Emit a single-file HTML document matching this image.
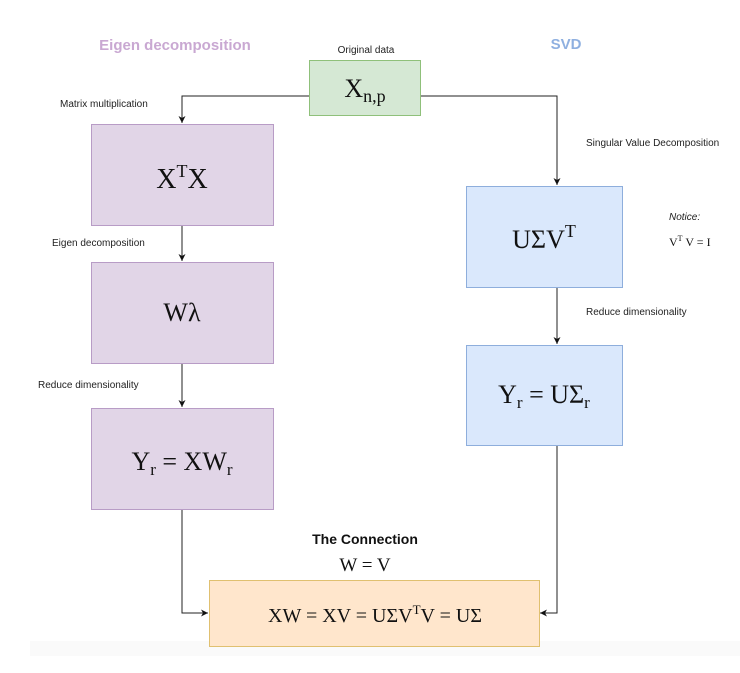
<!DOCTYPE html>
<html><head><meta charset="utf-8"><style>
html,body{margin:0;padding:0;background:#fff;}
svg{display:block;}
.s{font-family:"Liberation Sans",sans-serif;font-size:10px;fill:#222;}
.m{font-family:"Liberation Serif",serif;fill:#111;}
</style></head><body>
<svg width="740" height="673" viewBox="0 0 740 673" xmlns="http://www.w3.org/2000/svg">
<defs><marker id="a" markerWidth="8" markerHeight="8" refX="7" refY="4" orient="auto" markerUnits="userSpaceOnUse"><path d="M0,0.5 L7,4 L0,7.5 L2,4 Z" fill="#111"/></marker></defs>
<rect x="30" y="641" width="710" height="15" fill="#fafafa"/>
<text x="175" y="50" text-anchor="middle" font-family="Liberation Sans,sans-serif" font-weight="bold" font-size="15" fill="#c9a8d2">Eigen decomposition</text>
<text x="566" y="49" text-anchor="middle" font-family="Liberation Sans,sans-serif" font-weight="bold" font-size="15" fill="#8fb0e0">SVD</text>
<text class="s" x="366" y="53" text-anchor="middle">Original data</text>
<g stroke="#222" stroke-width="1" fill="none">
<path d="M310,96 H182 V123" marker-end="url(#a)"/>
<path d="M420,96 H557 V185" marker-end="url(#a)"/>
<path d="M182,225 V261" marker-end="url(#a)"/>
<path d="M182,363 V407" marker-end="url(#a)"/>
<path d="M557,287 V344" marker-end="url(#a)"/>
<path d="M182,509 V613 H208" marker-end="url(#a)"/>
<path d="M557,445 V613 H540" marker-end="url(#a)"/>
</g>
<rect x="309.5" y="60.5" width="111" height="55" fill="#d5e8d4" stroke="#8fc07a"/>
<text class="m" x="365" y="97" text-anchor="middle" font-size="26">X<tspan font-size="18" dy="5">n,p</tspan></text>
<text class="s" x="60" y="107">Matrix multiplication</text>
<rect x="91.5" y="124.5" width="182" height="101" fill="#e1d5e7" stroke="#b89cc6"/>
<text class="m" x="182" y="188" text-anchor="middle" font-size="28">X<tspan font-size="18" dy="-11">T</tspan><tspan dy="11">X</tspan></text>
<text class="s" x="52" y="246">Eigen decomposition</text>
<rect x="91.5" y="262.5" width="182" height="101" fill="#e1d5e7" stroke="#b89cc6"/>
<text class="m" x="182" y="321" text-anchor="middle" font-size="26">Wλ</text>
<text class="s" x="38" y="388">Reduce dimensionality</text>
<rect x="91.5" y="408.5" width="182" height="101" fill="#e1d5e7" stroke="#b89cc6"/>
<text class="m" x="182" y="470" text-anchor="middle" font-size="26">Y<tspan font-size="17" dy="5">r</tspan><tspan dy="-5"> = XW</tspan><tspan font-size="17" dy="5">r</tspan></text>
<text class="s" x="586" y="146">Singular Value Decomposition</text>
<rect x="466.5" y="186.5" width="156" height="101" fill="#dae8fc" stroke="#8eaedc"/>
<text class="m" x="544" y="248" text-anchor="middle" font-size="26">UΣV<tspan font-size="18" dy="-11">T</tspan></text>
<text x="669" y="220" font-family="Liberation Sans,sans-serif" font-style="italic" font-size="10" fill="#222">Notice:</text>
<text class="m" x="669" y="246" font-size="12">V<tspan font-size="8" dy="-5">T</tspan><tspan dy="5"> V = I</tspan></text>
<text class="s" x="586" y="315">Reduce dimensionality</text>
<rect x="466.5" y="345.5" width="156" height="100" fill="#dae8fc" stroke="#8eaedc"/>
<text class="m" x="544" y="403" text-anchor="middle" font-size="26">Y<tspan font-size="17" dy="5">r</tspan><tspan dy="-5"> = UΣ</tspan><tspan font-size="17" dy="5">r</tspan></text>
<text x="365" y="544" text-anchor="middle" font-family="Liberation Sans,sans-serif" font-weight="bold" font-size="14" fill="#111">The Connection</text>
<text class="m" x="365" y="571" text-anchor="middle" font-size="19">W = V</text>
<rect x="209.5" y="580.5" width="330" height="66" fill="#ffe6cc" stroke="#e0c070"/>
<text class="m" x="375" y="622" text-anchor="middle" font-size="20">XW = XV = UΣV<tspan font-size="13" dy="-8">T</tspan><tspan dy="8">V = UΣ</tspan></text>
</svg>
</body></html>
